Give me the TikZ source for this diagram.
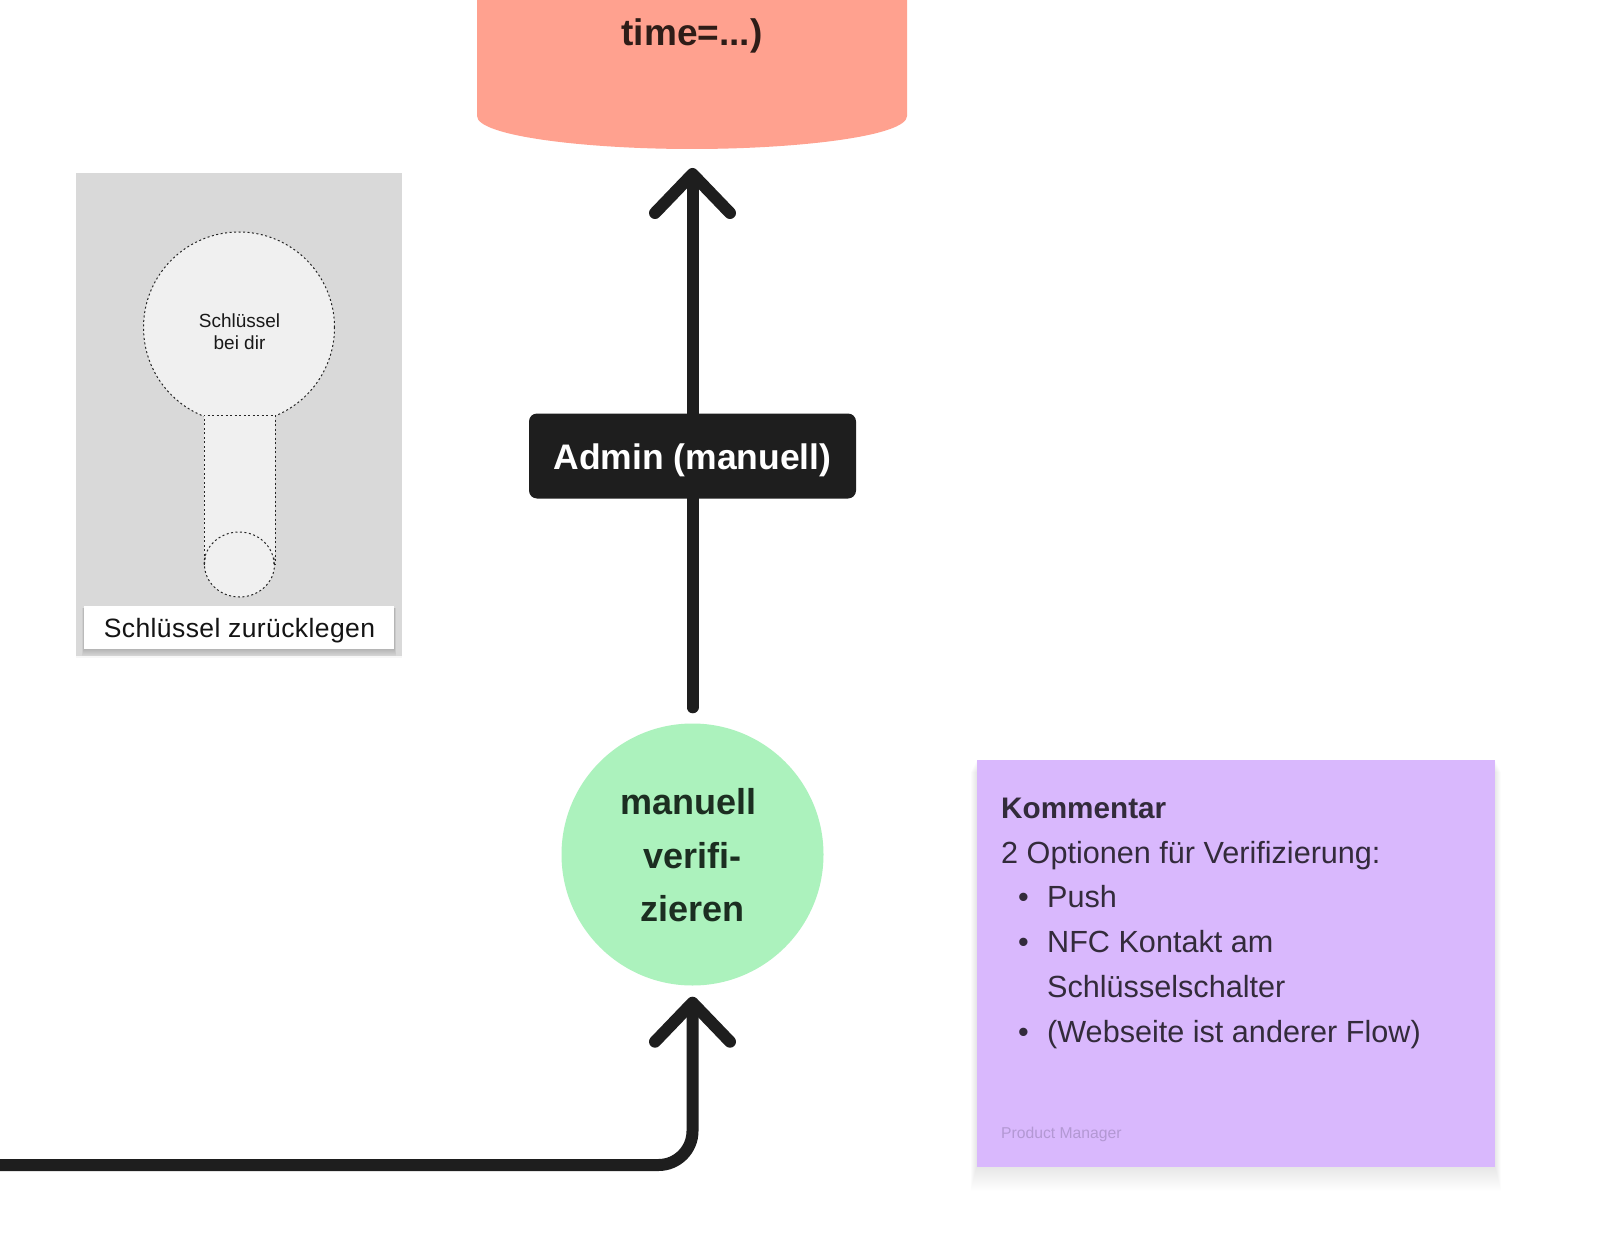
\documentclass[tikz,border=0pt]{standalone}
\usepackage{fontspec}
\setmainfont{Liberation Sans}
\usetikzlibrary{arrows.meta,calc,shapes.geometric}
\definecolor{ink}{HTML}{1E1E1E}
\definecolor{salmon}{HTML}{FFA18F}
\definecolor{salmontext}{HTML}{2E1D18}
\definecolor{keybg}{HTML}{D9D9D9}
\definecolor{keyfill}{HTML}{F0F0F0}
\definecolor{mint}{HTML}{ACF2BD}
\definecolor{minttext}{HTML}{1C2E21}
\definecolor{lilac}{HTML}{D9B8FD}
\definecolor{lilactext}{HTML}{332B3B}
\definecolor{lilacfaint}{HTML}{B398D3}
\tikzset{
  flow/.style={draw=ink,line width=12pt,line cap=round,line join=round,
    -{Straight Barb[length=39pt,width=75pt,round]}},
  keyshape/.style={draw=black!85,fill=keyfill,line width=1pt,dash pattern=on 2pt off 2.5pt},
  boldtext/.style={font=\fontsize{#1}{#1}\selectfont\bfseries,inner sep=0pt},
  plaintext/.style={font=\fontsize{#1}{#1}\selectfont,inner sep=0pt}
}
\begin{document}
\begin{tikzpicture}[x=1pt,y=-1pt]
\useasboundingbox (0,0) rectangle (1600,1238);
\fill[white] (0,0) rectangle (1600,1238);

% cylinder
\fill[salmon] (477,-5) -- (477,116) .. controls (477,136) and (585,149) .. (692,149)
  .. controls (799,149) and (907,136) .. (907,116) -- (907,-5) -- cycle;
\coordinate (cylbottom) at (692.5,149);
\node[boldtext=37,text=salmontext] (timetext) at (692,36) {time=...)};

% key card
\fill[black,fill opacity=0.03] (76,173) rectangle (402,657.5);
\fill[keybg] (76,173) rectangle (402,655.5);
\node[circle,minimum size=191pt,inner sep=0pt,keyshape] (keyhead) at (239,327.5) {};
\node[ellipse,minimum width=70pt,minimum height=65pt,inner sep=0pt,keyshape] (keyend) at (239.5,564.5) {};
\fill[keyfill] (204,415) rectangle (275,556);
\draw[keyshape,fill=none] (204,564.5) -- (204,415) -- (275,415) -- (275,564.5);
\draw[keyshape,fill=none] (keyend.west) arc[start angle=180,end angle=0,x radius=35pt,y radius=32.5pt];
\node[inner sep=0pt,align=center,text=black!90,font=\fontsize{19}{22.5}\selectfont] (keytext) at (239.5,331.5)
  {Schlüssel\\bei dir};
\foreach \i in {1,...,8}{
  \fill[black,fill opacity=0.022] (84-\i/4,608) rectangle (394+\i/4,648+\i);
}
\node[fill=white,minimum width=310pt,minimum height=43pt,inner sep=0pt] (keylabelbox) at (239,627.5) {};
\node[plaintext=26.5,text=black!92] (keylabel) at (239.5,630.5) {\addfontfeature{LetterSpace=1.5}Schlüssel zurücklegen};

% green circle
\node[circle,fill=mint,minimum size=262pt,inner sep=0pt] (verify) at (692.5,854.5) {};
\node[boldtext=36,text=minttext] (verifya) at (688.5,802) {manuell};
\node[boldtext=36,text=minttext] (verifyb) at (692.5,856) {verifi-};
\node[boldtext=36,text=minttext] (verifyc) at (692.5,909) {zieren};

% connectors
\coordinate (upstart) at ($(verify.north)+(0,-16)$);
\coordinate (uptip) at ($(cylbottom)+(0,19)$);
\draw[flow] (upstart) -- (uptip);
\node[fill=ink,rounded corners=8pt,minimum width=327pt,minimum height=85pt,inner sep=0pt] (adminbox) at (692.5,456) {};
\node[boldtext=35.5,text=white] (admin) at (692.5,460) {Admin (manuell)};

\coordinate (leftend) at (-10,1165);
\coordinate (lowcorner) at (692.5,1165);
\coordinate (lowtip) at ($(verify.south)+(0,11)$);
\draw[flow,rounded corners=34pt] (leftend) -- (lowcorner) -- (lowtip);

% note
\foreach \i in {1,...,24}{
  \fill[black,fill opacity=0.004] (976.5-\i/4,760+\i/2) rectangle (1495+\i/4,1167+\i);
}
\fill[lilac] (976.5,760) rectangle (1495,1167);
\node[anchor=north west,inner sep=0pt,align=left,text=lilactext,font=\fontsize{30.6}{44.9}\selectfont] (note) at (1001,797.5) {%
  {\fontsize{29.7}{44.9}\selectfont\bfseries Kommentar}\\
  2 Optionen für Verifizierung:\\
  \makebox[46pt][l]{\hspace{17pt}•}Push\\
  \makebox[46pt][l]{\hspace{17pt}•}NFC Kontakt am\\
  \makebox[46pt][l]{}Schlüsselschalter\\
  \makebox[46pt][l]{\hspace{17pt}•}(Webseite ist anderer Flow)};
\node[anchor=west,plaintext=15.7,text=lilacfaint] (author) at (1001,1134) {Product Manager};
\end{tikzpicture}
\end{document}
